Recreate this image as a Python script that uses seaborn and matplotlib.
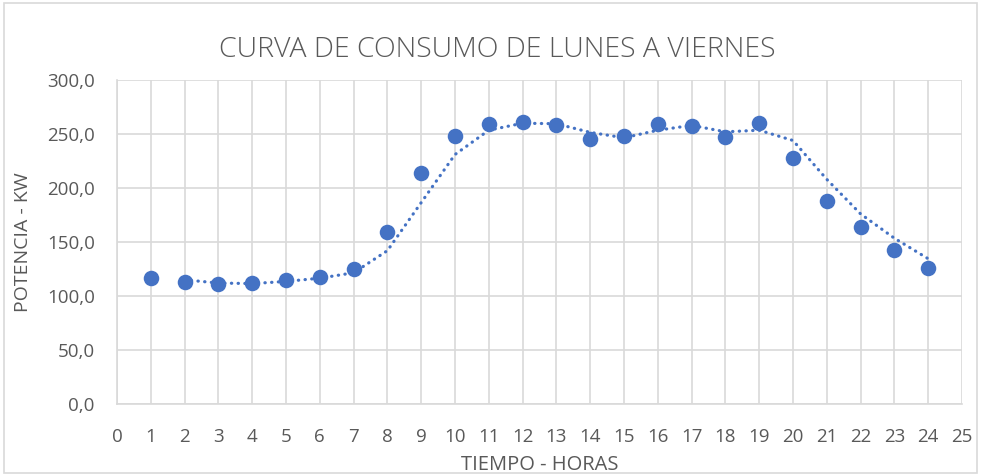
import numpy as np
import pandas as pd
import matplotlib
matplotlib.use('Agg')
import matplotlib.pyplot as plt
import seaborn as sns
from matplotlib.ticker import FuncFormatter, MultipleLocator

# datos
horas = list(range(1, 25))
potencia_kw = [117, 113, 111, 112, 115, 118, 125, 159, 214, 248, 259, 261,
               258, 245, 248, 259, 257, 247, 260, 228, 188, 164, 143, 126]

titulo = 'CURVA DE CONSUMO DE LUNES A VIERNES'
etiqueta_x = 'TIEMPO - HORAS'
etiqueta_y = 'POTENCIA - KW'

df = pd.DataFrame({'hora': horas, 'potencia': potencia_kw})
# linea de tendencia: media movil de 2 periodos (como en Excel)
df['media_movil'] = df['potencia'].rolling(2).mean()

sns.set_theme(style='white')
plt.rcParams['font.family'] = ['Open Sans', 'DejaVu Sans']

azul = '#4472C4'
gris_txt = '#595959'
gris_grid = '#D9D9D9'

fig = plt.figure(figsize=(9.81, 4.75), dpi=100)
ax = fig.add_axes([117 / 981, 71 / 475, 845 / 981, 324 / 475])

sns.lineplot(data=df.dropna(), x='hora', y='media_movil', ax=ax, color=azul,
             linestyle=(0, (0.1, 2.0)), linewidth=2.3, dash_capstyle='round')
sns.scatterplot(data=df, x='hora', y='potencia', ax=ax, color=azul,
                s=125, edgecolor=azul, linewidth=0, zorder=3)

ax.set_xlim(0, 25)
ax.set_ylim(0, 300)
ax.xaxis.set_major_locator(MultipleLocator(1))
ax.yaxis.set_major_locator(MultipleLocator(50))
ax.yaxis.set_major_formatter(FuncFormatter(lambda v, p: f'{v:.1f}'.replace('.', ',')))
ax.grid(True, color=gris_grid, linewidth=1.2)
ax.set_axisbelow(True)
for lado in ['top', 'right']:
    ax.spines[lado].set_visible(False)
for lado in ['left', 'bottom']:
    ax.spines[lado].set_color(gris_grid)
    ax.spines[lado].set_linewidth(1.2)
ax.tick_params(axis='y', length=0, labelsize=13.5, labelcolor=gris_txt, pad=16)
ax.tick_params(axis='x', length=0, labelsize=13.5, labelcolor=gris_txt, pad=17)

ax.set_xlabel(etiqueta_x, fontsize=14.5, color=gris_txt, labelpad=7)
ax.set_ylabel(etiqueta_y, fontsize=14, color=gris_txt, labelpad=11)
fig.text(0.507, 0.895, titulo, ha='center', va='center', fontsize=20.5,
         color=gris_txt, fontweight='light')

# marco del grafico
fig.patches.append(plt.Rectangle((0.004, 0.004), 0.992, 0.99, transform=fig.transFigure,
                                 fill=False, edgecolor=gris_grid, linewidth=1.2))

fig.savefig('out.png', dpi=100)
